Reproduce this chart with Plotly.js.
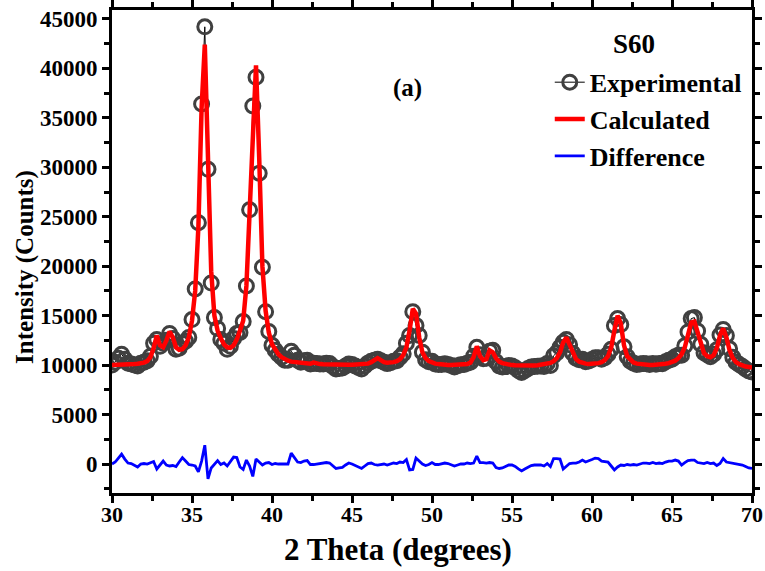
<!DOCTYPE html>
<html>
<head>
<meta charset="utf-8">
<script src="https://cdn.plot.ly/plotly-3.0.1.min.js"></script>
<style>html,body{margin:0;padding:0;background:#fff;}#chart{width:765px;height:571px;}</style>
</head>
<body>
<div id="chart"></div>
<script>
// 2 Theta grid: start 30, step 0.2 (201 points up to 70)
var thetaStart = 30;
var thetaStep = 0.2;

var experimental = [
  10000,10300,10700,11100,10600,10200,10100,10000,9900,10200,
  10300,10450,10900,12200,12600,11900,12200,12500,13200,12700,
  11600,11700,12200,12400,12800,14600,17700,24400,36400,44200,
  29800,18300,14800,13700,12600,12200,11600,11900,12700,13200,
  13300,14400,18000,25700,36200,39100,29400,19900,15400,13400,
  12000,11500,11100,10800,10500,10500,11400,11000,10500,10300,
  10450,10500,10100,10200,10150,10100,10100,10200,10150,9850,
  9600,9650,9700,9900,10100,10050,9900,9750,9600,9900,
  10200,10400,10500,10600,10450,10300,10150,10250,10400,10450,
  10800,11150,12200,13000,15400,14000,13000,11300,10550,10350,
  10400,10100,10050,10050,10130,10070,9970,9820,9930,10040,
  10050,10200,10300,10900,11800,11050,10650,10700,11400,11500,
  10350,9900,9800,9850,9950,9900,9730,9460,9250,9450,
  9650,9810,9870,9890,9920,9860,10170,9970,10950,11250,
  11800,12300,12600,12050,11200,10700,10550,10600,10350,10420,
  10570,10750,10750,10600,10750,11100,11600,14000,14700,14100,
  11850,10850,10400,10200,10050,10100,10150,10130,10070,10170,
  10080,10150,10130,10330,10500,10600,10850,11000,11000,11950,
  13350,14700,14800,13450,12100,11250,11050,10850,11100,11550,
  13050,13600,13000,11650,10800,10300,10050,9850,9600,9400,
  9300
];

var calculated = [
  10000,10000,10020,10030,10050,10060,10080,10100,10130,10170,
  10250,10400,10800,11700,13000,12000,11800,12500,13400,12800,
  11800,11550,11600,12000,12800,14500,17500,24000,36000,42400,
  31000,19500,15000,13500,12700,12100,11800,11750,12000,12600,
  13500,14500,18000,25000,34000,40300,31000,20000,15500,13300,
  12100,11500,11100,10800,10600,10450,10350,10300,10250,10200,
  10150,10130,10150,10250,10150,10100,10080,10060,10050,10050,
  10040,10040,10030,10030,10030,10030,10040,10050,10060,10080,
  10150,10300,10550,10700,10500,10300,10250,10250,10300,10400,
  10600,11000,11800,13500,15700,15200,12800,11300,10700,10400,
  10250,10150,10100,10050,10030,10020,10020,10020,10030,10040,
  10050,10100,10250,10800,11900,10900,10500,10600,11500,11300,
  10700,10350,10200,10100,10050,10000,9980,9960,9950,9950,
  9950,9960,9970,9990,10020,10060,10120,10220,10400,10700,
  11300,12300,12800,12000,11100,10600,10350,10200,10150,10120,
  10120,10150,10200,10300,10500,10900,11800,13500,15000,14200,
  12000,10900,10500,10250,10150,10100,10050,10030,10020,10020,
  10030,10050,10080,10130,10200,10300,10450,10700,11100,11800,
  13000,14300,14400,13300,12000,11200,10900,10800,11000,11700,
  13000,13700,12800,11500,10700,10300,10100,9950,9850,9800,
  9750
];

var difference = [
  0,200,600,1000,500,100,50,-100,-300,0,
  50,0,100,250,-500,-100,300,-100,-200,-150,
  -250,200,650,300,-50,-100,-200,-800,300,1900,
  -1500,-400,0,350,-50,100,-200,200,700,650,
  -300,-550,400,-200,-1250,500,200,-100,100,150,
  -50,50,0,0,-50,0,1100,700,200,150,
  300,350,-50,-50,0,0,50,150,100,-200,
  -450,-400,-350,-100,100,0,-150,-300,-450,-200,
  50,100,-50,-100,-50,0,-100,0,100,50,
  200,150,450,-600,-550,600,300,0,-150,-50,
  150,-50,-50,0,100,50,-50,-200,-100,0,
  0,100,50,100,800,150,150,100,150,100,
  -350,-450,-400,-250,-100,-100,-250,-500,-700,-500,
  -300,-150,-100,-100,-100,-200,50,-250,550,550,
  500,-500,-200,50,100,100,200,400,200,300,
  450,600,550,300,250,200,-200,-600,-300,-100,
  -150,-50,-100,-50,-100,0,100,100,50,150,
  50,100,50,200,300,300,400,300,-100,150,
  350,400,400,150,100,50,150,50,100,-150,
  50,550,200,150,100,0,-50,-100,-250,-400,
  -450
];

var seriesNames = ['Experimental', 'Calculated', 'Difference'];
var xTitle = '2 Theta (degrees)';
var yTitle = 'Intensity (Counts)';
var sampleLabel = 'S60';
var panelLabel = '(a)';

var FONT = '"Liberation Serif", "Times New Roman", serif';

var traces = [
  {
    y: experimental, x0: thetaStart, dx: thetaStep,
    name: seriesNames[0], type: 'scatter', mode: 'lines+markers',
    line: {color: '#000000', width: 1},
    marker: {symbol: 'circle-open', size: 14, color: '#404040', line: {width: 3, color: '#404040'}}
  },
  {
    y: calculated, x0: thetaStart, dx: thetaStep,
    name: seriesNames[1], type: 'scatter', mode: 'lines',
    line: {color: '#ff0000', width: 4.5}
  },
  {
    y: difference, x0: thetaStart, dx: thetaStep,
    name: seriesNames[2], type: 'scatter', mode: 'lines',
    line: {color: '#0000ff', width: 2.8}
  }
];

var axisCommon = {
  showline: true, linecolor: '#000', linewidth: 3, mirror: 'allticks',
  ticks: 'outside', ticklen: 7, tickwidth: 3, tickcolor: '#000',
  showgrid: false, zeroline: false,
  tickformat: 'd', separatethousands: false, exponentformat: 'none'
};

var layout = {
  width: 765, height: 571,
  margin: {l: 112, r: 13, t: 10, b: 78},
  paper_bgcolor: '#fff', plot_bgcolor: '#fff',
  showlegend: true,
  legend: {
    x: 0.684, y: 0.899, xanchor: 'left', yanchor: 'top',
    bgcolor: 'rgba(0,0,0,0)',
    font: {family: FONT, size: 26, color: '#000', weight: 'bold'}
  },
  xaxis: Object.assign({}, axisCommon, {
    range: [30, 70], tick0: 30, dtick: 5,
    ticklabelstandoff: -7,
    tickfont: {family: FONT, size: 22, color: '#000', weight: 'bold'},
    minor: {dtick: 2.5, ticks: 'outside', ticklen: 5, tickwidth: 3, tickcolor: '#000'}
  }),
  yaxis: Object.assign({}, axisCommon, {
    range: [-2930, 45900], tick0: 0, dtick: 5000,
    tickfont: {family: FONT, size: 23, color: '#000', weight: 'bold'},
    minor: {dtick: 2500, ticks: 'outside', ticklen: 5, tickwidth: 3, tickcolor: '#000'}
  }),
  annotations: [
    {text: xTitle, xref: 'paper', yref: 'paper', x: 0.447, y: -0.118,
     xanchor: 'center', yanchor: 'middle', showarrow: false,
     font: {family: FONT, size: 31, color: '#000', weight: 'bold'}},
    {text: yTitle, xref: 'paper', yref: 'paper', x: -0.136, y: 0.468, textangle: -90,
     xanchor: 'center', yanchor: 'middle', showarrow: false,
     font: {family: FONT, size: 25, color: '#000', weight: 'bold'}},
    {text: sampleLabel, xref: 'paper', yref: 'paper', x: 0.816, y: 0.93,
     xanchor: 'center', yanchor: 'middle', showarrow: false,
     font: {family: FONT, size: 27, color: '#000', weight: 'bold'}},
    {text: panelLabel, xref: 'paper', yref: 'paper', x: 0.461, y: 0.838,
     xanchor: 'center', yanchor: 'middle', showarrow: false,
     font: {family: FONT, size: 25, color: '#000', weight: 'bold'}}
  ]
};

Plotly.newPlot('chart', traces, layout, {displayModeBar: false, staticPlot: true});
</script>
</body>
</html>
